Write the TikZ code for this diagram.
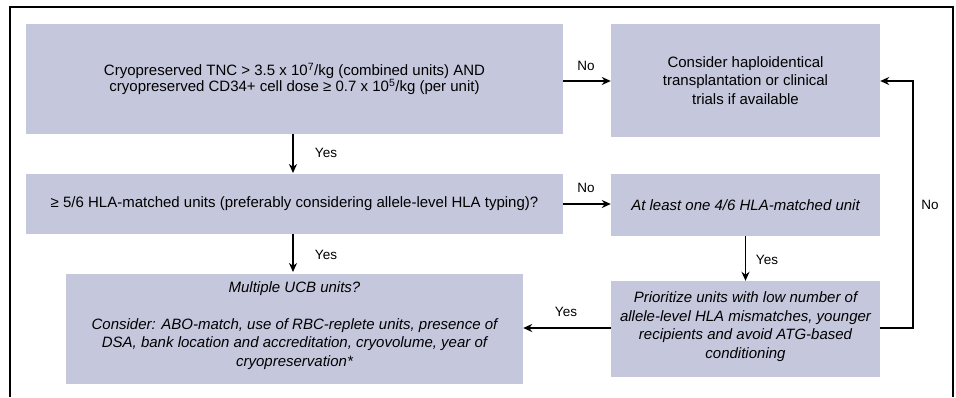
\documentclass[tikz,border=0pt]{standalone}
\usepackage{fontspec}
\setmainfont{Liberation Sans}
\usetikzlibrary{arrows.meta,calc}
\definecolor{boxfill}{RGB}{197,200,220}
\begin{document}
\begin{tikzpicture}[x=1pt,y=-1pt,
  box/.style={fill=boxfill,draw=none,align=center,inner sep=0pt,font=\fontsize{15}{18.5}\selectfont},
  arr/.style={line width=1.7pt,-{Stealth[length=9pt,width=8pt]}},
  lbl/.style={font=\fontsize{13.5}{15}\selectfont,inner sep=0pt}]
\useasboundingbox (0,0) rectangle (956,397);
\draw[line width=1.3pt] (10,397) -- (10,7) -- (953,7) -- (953,397);
\node[box,minimum width=537pt,minimum height=110pt,font=\fontsize{15}{15.5}\selectfont] (b1) at (294.5,79)
  {Cryopreserved TNC > 3.5 x 10\textsuperscript{7}/kg (combined units) AND\\
   cryopreserved CD34+ cell dose ≥ 0.7 x 10\textsuperscript{5}/kg (per unit)};
\node[box,minimum width=269pt,minimum height=113pt] (hap) at (745.5,80.5)
  {Consider haploidentical\\ transplantation or clinical\\ trials if available};
\node[box,minimum width=537pt,minimum height=60pt] (b2) at (294.5,204)
  {≥ 5/6 HLA-matched units (preferably considering allele-level HLA typing)?};
\node[box,minimum width=269pt,minimum height=62pt,font=\fontsize{15}{18.5}\selectfont\itshape] (b46) at (745.5,205)
  {At least one 4/6 HLA-matched unit};
\node[box,minimum width=457pt,minimum height=110pt,text depth=9.5pt,font=\fontsize{15}{18.5}\selectfont\itshape] (mul) at (294.5,329)
  {Multiple UCB units?\\[18pt]
   Consider: ABO-match, use of RBC-replete units, presence of\\
   DSA, bank location and accreditation, cryovolume, year of\\
   cryopreservation*};
\node[box,minimum width=269pt,minimum height=96pt,text depth=7.5pt,font=\fontsize{15}{18.5}\selectfont\itshape] (pri) at (745.5,329)
  {Prioritize units with low number of\\
   allele-level HLA mismatches, younger\\
   recipients and avoid ATG-based\\
   conditioning};
\coordinate (c1) at (913,81);
\draw[arr] (b1.east |- 0,81) -- (hap.west |- 0,81);
\node[lbl] (n1) at (586,66) {No};
\draw[arr] (293,134) -- (293,173);
\node[lbl] (y1) at (326,153) {Yes};
\draw[arr] (b2.east |- 0,204) -- (b46.west |- 0,204);
\node[lbl] (n2) at (586,188) {No};
\draw[arr] (293,234) -- (293,272);
\node[lbl] (y2) at (326,255) {Yes};
\draw[arr] (b46.south) -- (pri.north);
\node[lbl] (y3) at (767,260) {Yes};
\draw[arr] (pri.west |- 0,328) -- (mul.east |- 0,328);
\node[lbl] (y4) at (566,312) {Yes};
\draw[arr] (pri.east |- 0,328) -| (c1) -- (hap.east |- c1);
\node[lbl] (n3) at (930,205) {No};
\end{tikzpicture}
\end{document}
